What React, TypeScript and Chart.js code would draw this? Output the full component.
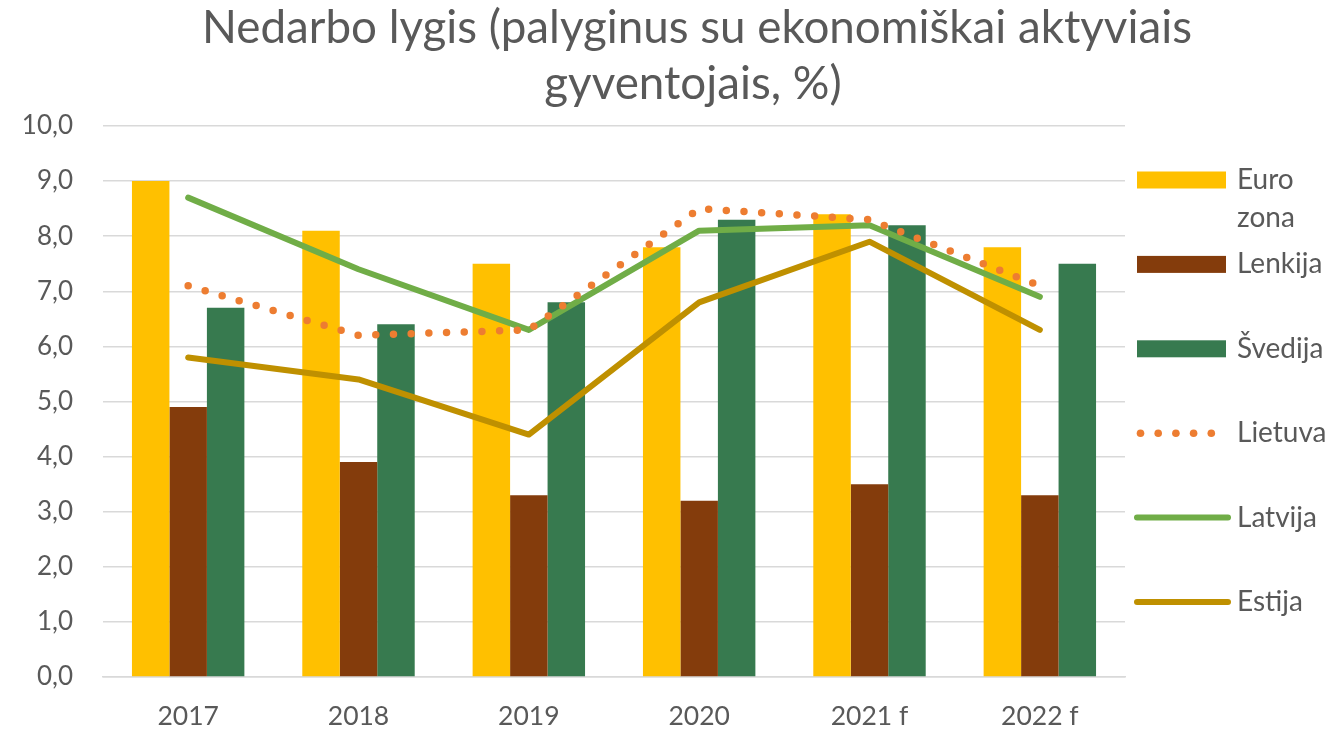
import React, { useEffect, useRef } from "react";
import { Chart, registerables } from "chart.js";

Chart.register(...registerables);

const categories = ["2017", "2018", "2019", "2020", "2021 f", "2022 f"];
const euroZona = [9.0, 8.1, 7.5, 7.8, 8.4, 7.8];
const lenkija = [4.9, 3.9, 3.3, 3.2, 3.5, 3.3];
const svedija = [6.7, 6.4, 6.8, 8.3, 8.2, 7.5];
const lietuva = [7.1, 6.2, 6.3, 8.5, 8.3, 7.1];
const latvija = [8.7, 7.4, 6.3, 8.1, 8.2, 6.9];
const estija = [5.8, 5.4, 4.4, 6.8, 7.9, 6.3];
const yMin = 0;
const yMax = 10;
const yStep = 1;
const titleLines = ["Nedarbo lygis (palyginus su ekonomiškai aktyviais", "gyventojais, %)"];
const legendLabels = [["Euro", "zona"], ["Lenkija"], ["Švedija"], ["Lietuva"], ["Latvija"], ["Estija"]];

const FONT = "Lato, 'Open Sans', sans-serif";
const TEXT = "#595959";
const GRID = "#D9D9D9";
const C_EURO = "#FFC000";
const C_LEN = "#843C0C";
const C_SVE = "#377A4F";
const C_LIE = "#ED7D31";
const C_LAT = "#70AD47";
const C_EST = "#BF9000";

const titlePlugin = {
  id: "customTitle",
  afterDraw(chart: any) {
    const ctx = chart.ctx;
    ctx.save();
    ctx.fillStyle = TEXT;
    ctx.font = `40px ${FONT}`;
    const w = ctx.measureText(titleLines[0]).width;
    const size = (40 * 990) / w;
    ctx.font = `${size}px ${FONT}`;
    ctx.textAlign = "center";
    ctx.textBaseline = "alphabetic";
    ctx.fillText(titleLines[0], 697, 43);
    ctx.fillText(titleLines[1], 693, 99);
    ctx.restore();
  },
};

const legendPlugin = {
  id: "customLegend",
  afterDraw(chart: any) {
    const ctx = chart.ctx;
    const x0 = 1137;
    const x1 = 1226;
    const tx = 1237;
    const y0 = 180;
    const step = 84.4;
    ctx.save();
    chart.data.datasets.forEach((ds: any, i: number) => {
      const y = y0 + i * step;
      if (ds.type === "bar" || !ds.type) {
        ctx.fillStyle = ds.backgroundColor;
        ctx.fillRect(x0, y - 8.5, x1 - x0, 17);
      } else if (ds.borderDash && ds.borderDash.length) {
        ctx.fillStyle = ds.borderColor;
        for (let k = 0; k < 5; k++) {
          ctx.beginPath();
          ctx.arc(x0 + 3.5 + k * 17.7, y, 3.8, 0, Math.PI * 2);
          ctx.fill();
        }
      } else {
        ctx.strokeStyle = ds.borderColor;
        ctx.lineWidth = 6;
        ctx.lineCap = "round";
        ctx.beginPath();
        ctx.moveTo(x0, y);
        ctx.lineTo(x1 + 2, y);
        ctx.stroke();
      }
      ctx.fillStyle = TEXT;
      ctx.font = `28px ${FONT}`;
      ctx.textAlign = "left";
      ctx.textBaseline = "middle";
      legendLabels[i].forEach((line: string, j: number) => {
        ctx.fillText(line, tx, y + j * 38);
      });
    });
    ctx.restore();
  },
};

export default function App() {
  const canvasRef = useRef<HTMLCanvasElement | null>(null);

  useEffect(() => {
    document.body.style.margin = "0";
    const canvas = canvasRef.current;
    if (!canvas) return;
    const barCommon = { type: "bar", categoryPercentage: 0.66, barPercentage: 1.0, order: 2, borderWidth: 0 };
    const lineCommon = {
      type: "line",
      pointRadius: 0,
      pointHoverRadius: 0,
      tension: 0,
      fill: false,
      order: 1,
      borderJoinStyle: "round",
    };
    const chart = new Chart(canvas, {
      type: "bar",
      data: {
        labels: categories,
        datasets: [
          { ...barCommon, label: "Euro zona", data: euroZona, backgroundColor: C_EURO },
          { ...barCommon, label: "Lenkija", data: lenkija, backgroundColor: C_LEN },
          { ...barCommon, label: "Švedija", data: svedija, backgroundColor: C_SVE },
          {
            ...lineCommon,
            label: "Lietuva",
            data: lietuva,
            borderColor: C_LIE,
            backgroundColor: C_LIE,
            borderWidth: 7.5,
            borderDash: [0, 17.7],
            borderCapStyle: "round",
          },
          { ...lineCommon, label: "Latvija", data: latvija, borderColor: C_LAT, backgroundColor: C_LAT, borderWidth: 6, borderCapStyle: "round" },
          { ...lineCommon, label: "Estija", data: estija, borderColor: C_EST, backgroundColor: C_EST, borderWidth: 6, borderCapStyle: "round" },
        ] as any,
      },
      options: {
        animation: false,
        responsive: true,
        maintainAspectRatio: false,
        layout: { padding: { left: 0, right: 207, top: 126, bottom: 0 } },
        plugins: {
          legend: { display: false },
          title: { display: false },
          tooltip: { enabled: false },
        },
        scales: {
          x: {
            grid: { display: false, drawTicks: false },
            border: { display: true, color: GRID, width: 1.5 },
            ticks: { color: TEXT, font: { family: FONT, size: 26.5 }, padding: 24 },
            afterFit: (axis: any) => {
              axis.height = 54;
            },
          },
          y: {
            min: yMin,
            max: yMax,
            grid: { color: GRID, lineWidth: 1.5, drawTicks: false },
            border: { display: false },
            ticks: {
              stepSize: yStep,
              color: TEXT,
              font: { family: FONT, size: 26 },
              padding: 30,
              callback: (v: any) => Number(v).toFixed(1).replace(".", ","),
            },
            afterFit: (axis: any) => {
              axis.width = 103;
            },
          },
        },
      } as any,
      plugins: [titlePlugin, legendPlugin],
    });
    return () => chart.destroy();
  }, []);

  return (
    <div style={{ position: "relative", width: 1332, height: 731 }}>
      <canvas ref={canvasRef} />
    </div>
  );
}
